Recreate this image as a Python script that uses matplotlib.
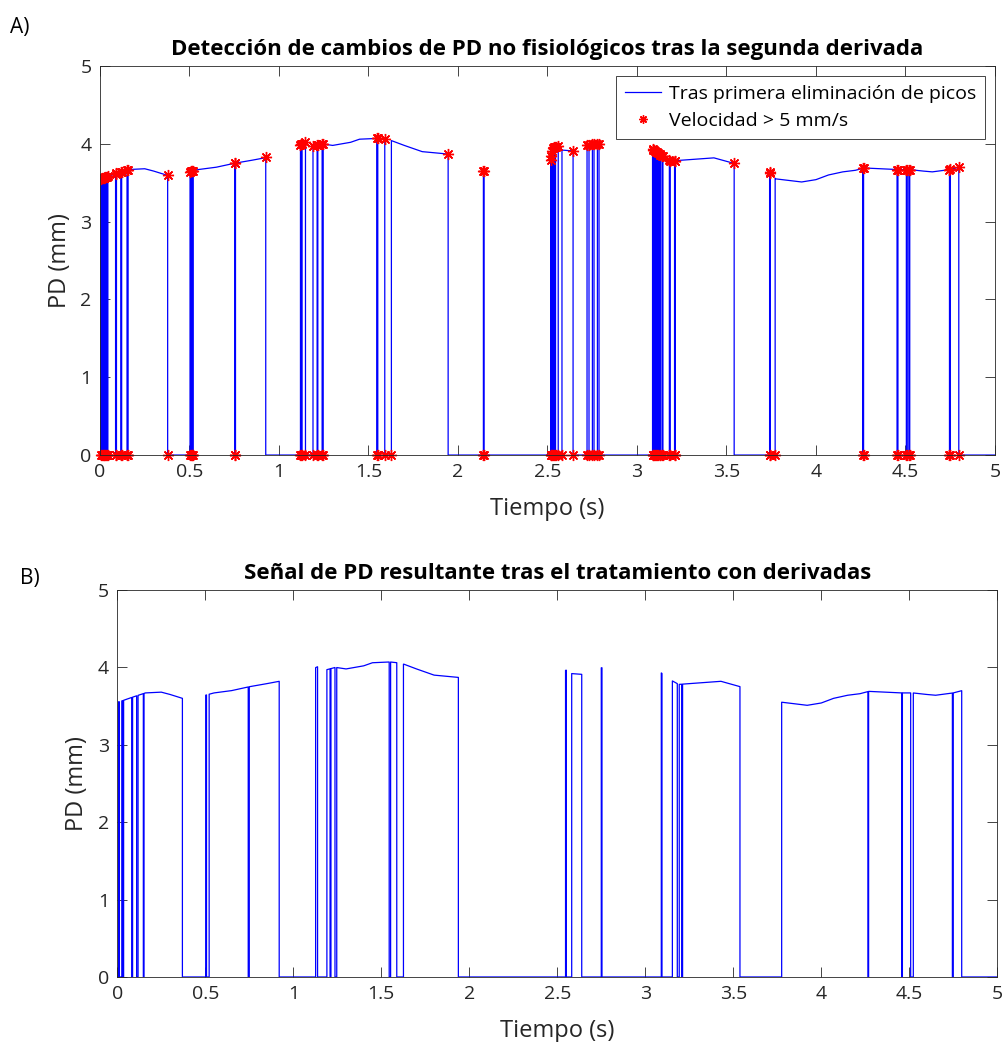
import numpy as np
import matplotlib.pyplot as plt
from matplotlib.lines import Line2D

plt.rcParams['font.family'] = ['Open Sans', 'DejaVu Sans']

# PD envelope (time s, diameter mm)
env_t = [0.00, 0.03, 0.08, 0.12, 0.16, 0.25, 0.30, 0.37,
         0.50, 0.55, 0.65, 0.75, 0.85, 0.92,
         1.12, 1.15, 1.19, 1.24, 1.30, 1.40, 1.45, 1.55, 1.59, 1.63, 1.70, 1.80, 1.94,
         2.144, 2.518, 2.53, 2.56, 2.58, 2.64, 2.72, 2.79,
         3.09, 3.12, 3.15, 3.19, 3.25, 3.43, 3.54, 3.742, 3.775,
         3.85, 3.92, 4.00, 4.07, 4.15, 4.22, 4.27, 4.36, 4.45, 4.52, 4.60, 4.65, 4.75, 4.80]
env_pd = [3.55, 3.57, 3.61, 3.64, 3.67, 3.68, 3.65, 3.60,
          3.64, 3.67, 3.70, 3.75, 3.79, 3.82,
          3.99, 4.02, 3.97, 4.00, 3.98, 4.02, 4.06, 4.07, 4.06, 4.04, 3.98, 3.90, 3.87,
          3.65, 3.79, 3.95, 3.97, 3.92, 3.91, 3.99, 4.00,
          3.93, 3.88, 3.83, 3.78, 3.79, 3.82, 3.75, 3.64, 3.55,
          3.53, 3.51, 3.54, 3.60, 3.64, 3.66, 3.69, 3.68, 3.67, 3.67, 3.65, 3.64, 3.67, 3.70]

# panel A: intervals where the signal is on the envelope (else 0)
top_start = [0.004, 0.014, 0.025, 0.034, 0.044, 0.092, 0.121, 0.157,
             0.503, 0.512, 0.521, 0.757,
             1.120, 1.129, 1.190, 1.217, 1.247, 1.552, 1.628,
             2.142,
             2.518, 2.527, 2.535, 2.545, 2.581, 2.721, 2.751, 2.779,
             3.087, 3.097, 3.108, 3.119, 3.131, 3.145, 3.186, 3.214,
             3.741,
             3.772, 4.266, 4.458, 4.510, 4.524, 4.751]
top_end = [0.010, 0.021, 0.030, 0.040, 0.087, 0.116, 0.151, 0.378,
           0.508, 0.516, 0.753, 0.926,
           1.124, 1.148, 1.213, 1.241, 1.546, 1.591, 1.945,
           2.146,
           2.522, 2.531, 2.540, 2.560, 2.643, 2.732, 2.760, 2.788,
           3.092, 3.103, 3.114, 3.126, 3.140, 3.181, 3.210, 3.543,
           3.745,
           4.261, 4.453, 4.505, 4.519, 4.746, 4.798]

# edges where only one of the two samples is flagged
no_top_star = [1.628, 2.581, 3.772]
no_bottom_star = [0.926, 1.945, 3.543]

# panel B: resulting signal
bot_start = [0.008, 0.026, 0.036, 0.087, 0.118, 0.152,
             0.503, 0.522, 0.750,
             1.127, 1.191, 1.214, 1.247, 1.553, 1.626,
             2.547, 2.582, 2.750,
             3.091, 3.154, 3.193, 3.212,
             3.775, 4.269, 4.461, 4.523, 4.750]
bot_end = [0.011, 0.030, 0.082, 0.110, 0.148, 0.370,
           0.507, 0.744, 0.920,
           1.138, 1.209, 1.237, 1.545, 1.588, 1.938,
           2.551, 2.639, 2.754,
           3.095, 3.182, 3.207, 3.538,
           4.265, 4.457, 4.508, 4.745, 4.798]


def build(starts, ends, t_max=5.0):
    t, y = [0.0], [0.0]
    for s, e in zip(starts, ends):
        inner = [v for v in env_t if s < v < e]
        ts = [s] + inner + [e]
        t += [s] + ts + [e]
        y += [0.0] + list(np.interp(ts, env_t, env_pd)) + [0.0]
    t.append(t_max)
    y.append(0.0)
    return t, y


def style(ax, title):
    ax.set_xlim(0, 5)
    ax.set_ylim(0, 5)
    ax.set_xticks([0, 0.5, 1, 1.5, 2, 2.5, 3, 3.5, 4, 4.5, 5])
    ax.set_xticklabels(['0', '0.5', '1', '1.5', '2', '2.5', '3', '3.5', '4', '4.5', '5'])
    ax.set_yticks([0, 1, 2, 3, 4, 5])
    ax.tick_params(direction='in', length=7, width=0.6, top=True, right=True,
                   labelsize=14, colors='#262626', pad=6)
    for sp in ax.spines.values():
        sp.set_color('#262626')
        sp.set_linewidth(0.6)
    ax.set_xlabel('Tiempo (s)', fontsize=17, color='#262626', labelpad=11)
    ax.set_ylabel('PD (mm)', fontsize=17, color='#262626', labelpad=6)
    ax.set_title(title, fontsize=16, fontweight='bold', color='black', pad=8)


fig = plt.figure(figsize=(10.05, 10.42), dpi=100)
ax1 = fig.add_axes([0.0995, 0.5633, 0.8905, 0.3733])
ax2 = fig.add_axes([0.1167, 0.0624, 0.8756, 0.3714])

tt, yy = build(top_start, top_end)
ax1.plot(tt, yy, color='blue', lw=0.9)

edges = []
for s, e in zip(top_start, top_end):
    edges += [s, e]
st_top = [v for v in edges if v not in no_top_star]
st_bot = [v for v in edges if v not in no_bottom_star]
ax1.plot(st_top, np.interp(st_top, env_t, env_pd), ls='none', marker=(8, 2, 0),
         ms=8, mec='red', mew=1.0, color='red')
ax1.plot(st_bot, np.zeros(len(st_bot)), ls='none', marker=(8, 2, 0),
         ms=8, mec='red', mew=1.0, color='red', clip_on=False)
style(ax1, 'Detección de cambios de PD no fisiológicos tras la segunda derivada')

handles = [Line2D([], [], color='blue', lw=0.9),
           Line2D([], [], ls='none', marker=(8, 2, 0), ms=6, mec='red', mew=1.0)]
leg = ax1.legend(handles, ['Tras primera eliminación de picos', 'Velocidad > 5 mm/s'],
                 loc='upper right', fontsize=14, fancybox=False, framealpha=1,
                 edgecolor='#262626', handlelength=1.9, handletextpad=0.4,
                 borderaxespad=0.5, labelspacing=0.5, borderpad=0.45)
leg.get_frame().set_linewidth(0.6)

tb, yb = build(bot_start, bot_end)
ax2.plot(tb, yb, color='blue', lw=0.9)
style(ax2, 'Señal de PD resultante tras el tratamiento con derivadas')

fig.text(0.01, 0.968, 'A)', fontsize=15, color='black')
fig.text(0.02, 0.440, 'B)', fontsize=15, color='black')

fig.savefig('out.png', dpi=100)
